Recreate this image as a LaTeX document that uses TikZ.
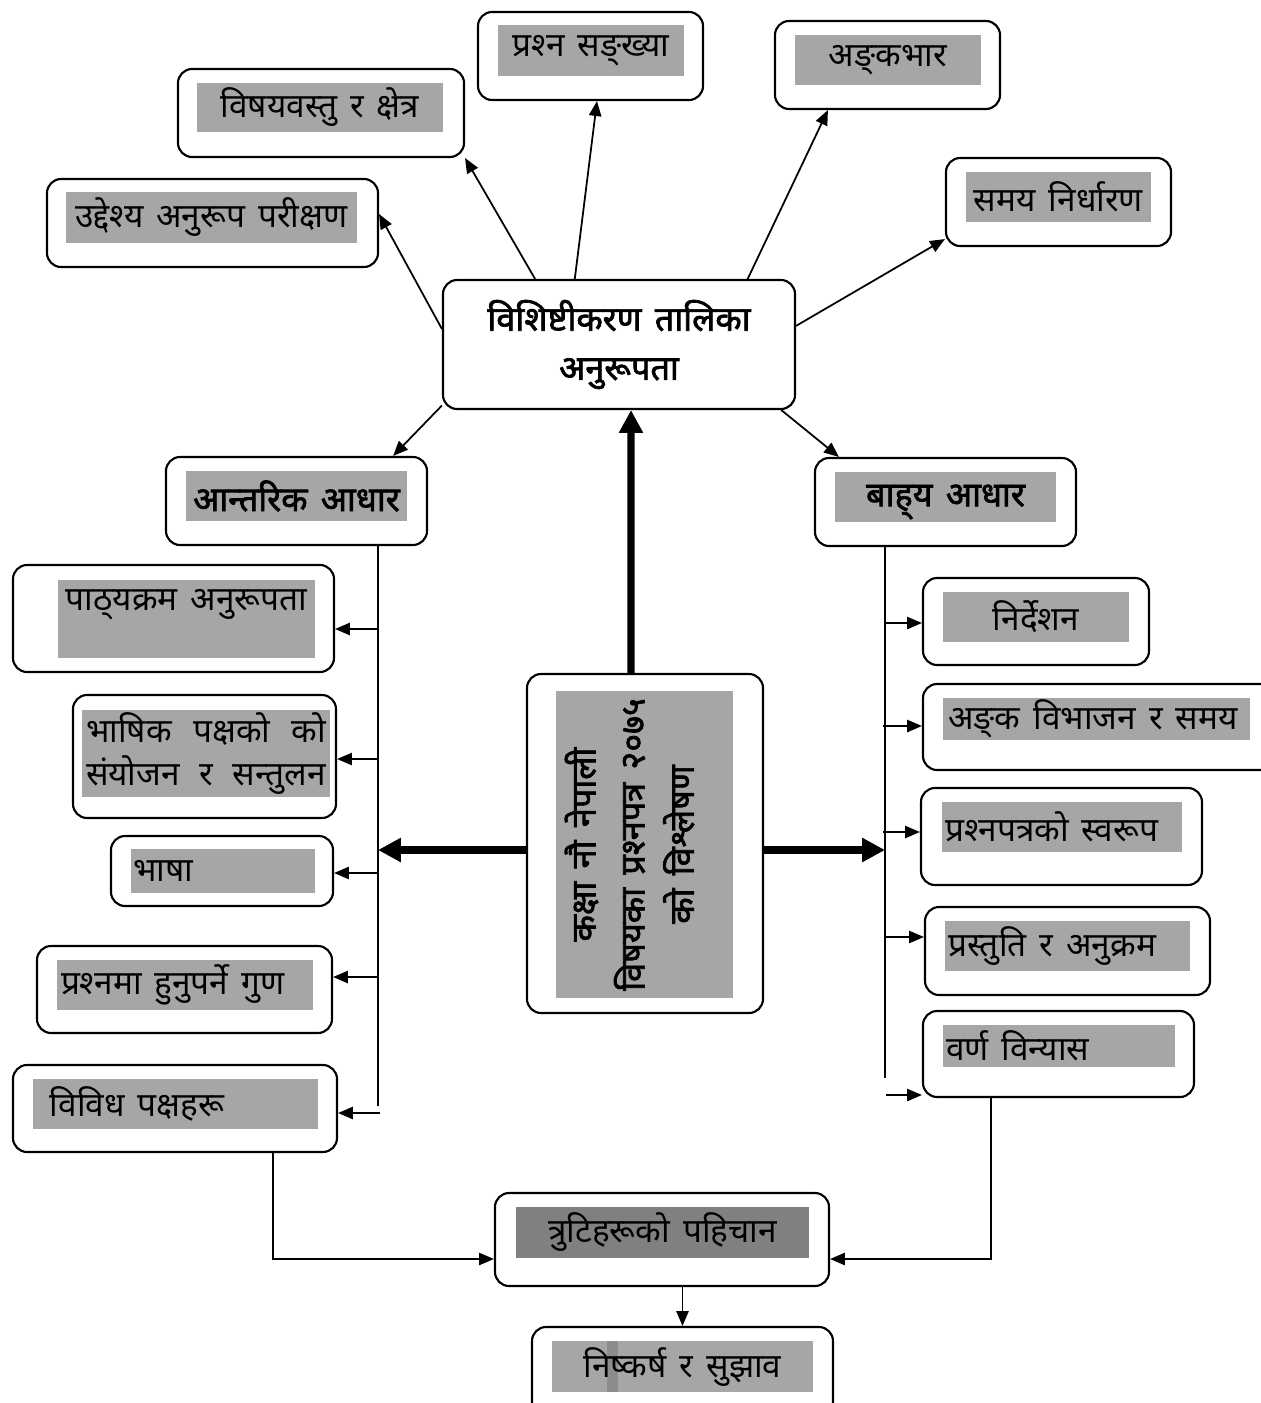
\documentclass[tikz,border=0pt]{standalone}
\usepackage{fontspec}
\newfontfamily\devfont[Script=Devanagari, WordSpace=1.5]{Noto Sans}
\newfontfamily\devbold[Script=Devanagari, FakeBold=2, WordSpace=1.5]{Noto Sans}
\usetikzlibrary{arrows.meta,fit}
\definecolor{boxgray}{HTML}{A6A6A6}
\definecolor{deepgray}{HTML}{808080}
\definecolor{patchgray}{HTML}{8C8C8C}
\tikzset{
  rbox/.style={draw, line width=1.2pt, rounded corners=8pt, fill=white, inner sep=0pt},
  gbox/.style={fill=boxgray, inner sep=0pt},
  dtext/.style={font=\devfont\fontsize{19}{24}\selectfont, inner sep=0pt},
  btext/.style={font=\devbold\fontsize{19.5}{28}\selectfont, inner sep=0pt},
  conn/.style={line width=1pt, -{Triangle[length=8.5pt,width=7pt]}},
  spine/.style={line width=1pt},
  bigconn/.style={line width=4pt, -{Triangle[length=13pt,width=13pt]}},
}
\begin{document}
\begin{tikzpicture}[x=0.02cm,y=-0.02cm]
  \useasboundingbox (0,0) rectangle (1261,1403);
  \clip (0,0) rectangle (1261,1403);

  \node[rbox, fit={(47,179) (378,267)}] (uddeshya) {};
  \node[gbox, fit={(66,192) (357,243)}] (uddeshyaG) {};
  \node[dtext] (uddeshyaL) at (uddeshyaG) {उद्देश्य अनुरूप परीक्षण};
  \node[rbox, fit={(178,69) (464,157)}] (bishay) {};
  \node[gbox, fit={(197,83) (443,132)}] (bishayG) {};
  \node[dtext] (bishayL) at (bishayG) {विषयवस्तु र क्षेत्र};
  \node[rbox, fit={(478,12) (703,100)}] (sankhya) {};
  \node[gbox, fit={(498,25) (684,76)}] (sankhyaG) {};
  \node[dtext] (sankhyaL) at (sankhyaG) {प्रश्^^^^200dन सङ्^^^^200cख्या};
  \node[rbox, fit={(775,21) (1000,109)}] (ankabhar) {};
  \node[gbox, fit={(795,35) (981,85)}] (ankabharG) {};
  \node[dtext] (ankabharL) at (ankabharG) {अङ्^^^^200cकभार};
  \node[rbox, fit={(946,158) (1171,246)}] (samay) {};
  \node[gbox, fit={(966,172) (1151,222)}] (samayG) {};
  \node[dtext] (samayL) at (samayG) {समय निर्धारण};

  \node[rbox, fit={(443,280) (795,409)}] (talika) {};
  \node[btext, align=center] (talikaL) at (talika) {विशिष्टीकरण तालिका\\अनुरूपता};

  \node[rbox, fit={(166,457) (427,545)}] (antarik) {};
  \node[gbox, fit={(186,471) (407,521)}] (antarikG) {};
  \node[btext] (antarikL) at (antarikG) {आन्तरिक आधार};
  \node[rbox, fit={(815,458) (1076,546)}] (bahya) {};
  \node[gbox, fit={(835,472) (1056,522)}] (bahyaG) {};
  \node[btext] (bahyaL) at ([yshift=-0.1cm]bahyaG) {बाह्^^^^200cय आधार};

  \node[rbox, fit={(13,565) (334,672)}] (pathya) {};
  \node[gbox, fit={(58,580) (315,658)}] (pathyaG) {};
  \node[dtext] (pathyaL) at ([yshift=-0.5cm]pathyaG.north) {पाठ्^^^^200cयक्रम अनुरूपता};
  \node[rbox, fit={(73,695) (336,818)}] (bhashik) {};
  \node[gbox, fit={(82,710) (330,797)}] (bhashikG) {};
  \node[dtext, align=center] (bhashikL) at (bhashikG) {\makebox[4.8cm][s]{भाषिक पक्षको को}\\\makebox[4.8cm][s]{संयोजन र सन्तुलन}};
  \node[rbox, fit={(111,836) (333,906)}] (bhasha) {};
  \node[gbox, fit={(131,849) (315,893)}] (bhashaG) {};
  \node[dtext, anchor=west] (bhashaL) at ([xshift=0.04cm]bhashaG.west) {भाषा};
  \node[rbox, fit={(37,946) (332,1033)}] (gun) {};
  \node[gbox, fit={(57,960) (313,1010)}] (gunG) {};
  \node[dtext, anchor=west] (gunL) at ([xshift=0.08cm]gunG.west) {प्रश्^^^^200dनमा हुनुपर्ने गुण};
  \node[rbox, fit={(13,1065) (337,1152)}] (bibidh) {};
  \node[gbox, fit={(33,1079) (318,1129)}] (bibidhG) {};
  \node[dtext, anchor=west] (bibidhL) at ([xshift=0.34cm]bibidhG.west) {विविध पक्षहरू};

  \node[rbox, fit={(527,674) (763,1013)}] (kendra) {};
  \node[gbox, fit={(556,691) (733,998)}] (kendraG) {};
  \node[btext, align=center, rotate=90, font=\devbold\fontsize{19.5}{28}\selectfont] (kendraL) at ([xshift=-0.3cm]kendraG) {कक्षा नौ नेपाली\\विषयका प्रश्^^^^200dनपत्र २०७५\\को विश्लेषण};

  \node[rbox, fit={(923,578) (1149,665)}] (nirdesan) {};
  \node[gbox, fit={(943,592) (1129,642)}] (nirdesanG) {};
  \node[dtext] (nirdesanL) at (nirdesanG) {निर्देशन};
  \node[rbox, fit={(923,684) (1280,770)}] (bibhajan) {};
  \node[gbox, fit={(943,698) (1250,740)}] (bibhajanG) {};
  \node[dtext, anchor=west] (bibhajanL) at ([xshift=0.1cm]bibhajanG.west) {अङ्^^^^200cक विभाजन र समय};
  \node[rbox, fit={(921,788) (1202,885)}] (swarup) {};
  \node[gbox, fit={(942,802) (1182,852)}] (swarupG) {};
  \node[dtext, anchor=west] (swarupL) at ([xshift=0.06cm]swarupG.west) {प्रश्^^^^200dनपत्रको स्वरूप};
  \node[rbox, fit={(925,907) (1210,995)}] (prastuti) {};
  \node[gbox, fit={(945,921) (1190,971)}] (prastutiG) {};
  \node[dtext, anchor=west] (prastutiL) at ([xshift=0.06cm]prastutiG.west) {प्रस्तुति र अनुक्रम};
  \node[rbox, fit={(923,1011) (1194,1097)}] (varna) {};
  \node[gbox, fit={(943,1025) (1175,1067)}] (varnaG) {};
  \node[dtext, anchor=west] (varnaL) at ([xshift=0.06cm]varnaG.west) {वर्ण विन्यास};

  \node[rbox, fit={(495,1193) (829,1286)}] (truti) {};
  \node[gbox, fill=deepgray, fit={(516,1207) (809,1258)}] (trutiG) {};
  \node[dtext] (trutiL) at (trutiG) {त्रुटिहरूको पहिचान};
  \node[rbox, fit={(532,1327) (833,1420)}] (niskarsa) {};
  \node[gbox, fit={(552,1341) (813,1392)}] (niskarsaG) {};
  \node[gbox, fill=patchgray, fit={(607,1341) (618,1392)}] (niskarsaP) {};
  \node[dtext] (niskarsaL) at (niskarsaG) {निष्कर्ष र सुझाव};

  \draw[conn] (talika.175) -- ([yshift=0.18cm]uddeshya.east);
  \draw[conn] (talika.142) -- (bishay.south east);
  \draw[conn] (talika.124) -- ([xshift=0.13cm]sankhya.south);
  \draw[conn] (talika.27) -- ([xshift=1.08cm]ankabhar.south west);
  \draw[conn] (talika.6.5) -- ([yshift=0.16cm]samay.south west);
  \draw[conn] (talika.199) -- ([xshift=-0.7cm]antarik.north east);
  \draw[conn] (talika.338) -- ([xshift=0.5cm]bahya.north west);

  \coordinate (lmid) at (378,850);
  \coordinate (rmid) at (885,850);
  \draw[bigconn] ([xshift=-0.28cm]kendra.north) -- ([xshift=0.24cm]talika.south);
  \draw[bigconn] (kendra.west |- lmid) -- (lmid);
  \draw[bigconn] (kendra.east |- rmid) -- (rmid);

  \coordinate (lbot) at (378,1106);
  \coordinate (l1) at (378,629);
  \coordinate (l2) at (378,759);
  \coordinate (l3) at (378,873);
  \coordinate (l4) at (378,977);
  \coordinate (l5) at (380,1113);
  \draw[spine] (antarik.south -| lbot) -- (lbot);
  \draw[conn] (l1) -- (l1 -| pathya.east);
  \draw[conn] (l2) -- (l2 -| bhashik.east);
  \draw[conn] (l3) -- (l3 -| bhasha.east);
  \draw[conn] (l4) -- (l4 -| gun.east);
  \draw[conn] (l5) -- (l5 -| bibidh.east);

  \coordinate (rbot) at (885,1078);
  \coordinate (r1) at (885,623);
  \coordinate (r2) at (883,726);
  \coordinate (r3) at (883,832);
  \coordinate (r4) at (885,937);
  \coordinate (r5) at (886,1095);
  \draw[spine] (bahya.south -| rbot) -- (rbot);
  \draw[conn] (r1) -- (r1 -| nirdesan.west);
  \draw[conn] (r2) -- (r2 -| bibhajan.west);
  \draw[conn] (r3) -- (r3 -| swarup.west);
  \draw[conn] (r4) -- (r4 -| prastuti.west);
  \draw[conn] (r5) -- (r5 -| varna.west);

  \coordinate (bl) at (273,1259);
  \coordinate (br) at (991,1259);
  \draw[conn] (bibidh.south -| bl) -- (bl) -- (truti.west |- bl);
  \draw[conn] (varna.south -| br) -- (br) -- (truti.east |- br);
  \draw[conn] (niskarsa.north |- truti.south) -- (niskarsa.north);
\end{tikzpicture}
\end{document}
